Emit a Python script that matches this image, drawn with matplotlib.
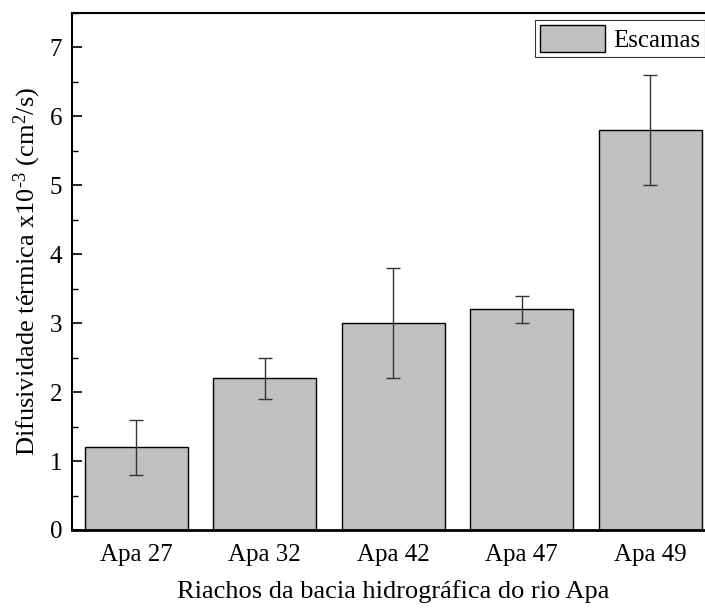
import matplotlib
matplotlib.use("Agg")
import matplotlib.pyplot as plt
from matplotlib.ticker import MultipleLocator

plt.rcParams['font.family'] = ['Liberation Serif', 'DejaVu Serif']
plt.rcParams['mathtext.fontset'] = 'custom'
plt.rcParams['mathtext.rm'] = 'Liberation Serif'
plt.rcParams['mathtext.it'] = 'Liberation Serif:italic'

# valores médios e desvios por riacho
riachos = ['Apa 27', 'Apa 32', 'Apa 42', 'Apa 47', 'Apa 49']
difusividade = [1.2, 2.2, 3.0, 3.2, 5.8]
desvio = [0.4, 0.3, 0.8, 0.2, 0.8]

fig = plt.figure(figsize=(7.05, 6.08), dpi=100)
ax = fig.add_axes([72 / 705, 1 - 530 / 608, 642.5 / 705, 517 / 608])

x = range(len(riachos))
ax.bar(x, difusividade, width=0.8, color='#c0c0c0', edgecolor='black',
       linewidth=1.0, label='Escamas', zorder=2)
ax.errorbar(x, difusividade, yerr=desvio, fmt='none', ecolor='#333333',
            elinewidth=1.0, capsize=5, capthick=1.0, zorder=3)

ax.set_xlim(-0.5, 4.5)
ax.set_ylim(0, 7.5)
ax.set_xticks(list(x))
ax.set_xticklabels(riachos)
ax.yaxis.set_major_locator(MultipleLocator(1))
ax.yaxis.set_minor_locator(MultipleLocator(0.5))
ax.tick_params(axis='y', which='major', direction='in', length=7, width=1.2,
               labelsize=18, pad=7)
ax.tick_params(axis='y', which='minor', direction='in', length=4, width=1.0)
ax.tick_params(axis='x', which='both', length=0, labelsize=18, pad=10)

for s in ax.spines.values():
    s.set_linewidth(1.5)
ax.spines['bottom'].set_linewidth(2.0)

ax.set_ylabel(r'Difusividade térmica x10$^{\text{-}3}$ (cm$^{2}$/s)', fontsize=19, labelpad=5)
ax.set_xlabel('Riachos da bacia hidrográfica do rio Apa', fontsize=19, labelpad=10)

leg = ax.legend(loc='upper right', bbox_to_anchor=(0.985, 0.986), borderaxespad=0,
                fontsize=18, frameon=True, fancybox=False, handlelength=2.6,
                handleheight=1.3, borderpad=0.2, handletextpad=0.3)
leg.get_frame().set_edgecolor('black')
leg.get_frame().set_linewidth(0.8)

fig.savefig('out.png', dpi=100)
